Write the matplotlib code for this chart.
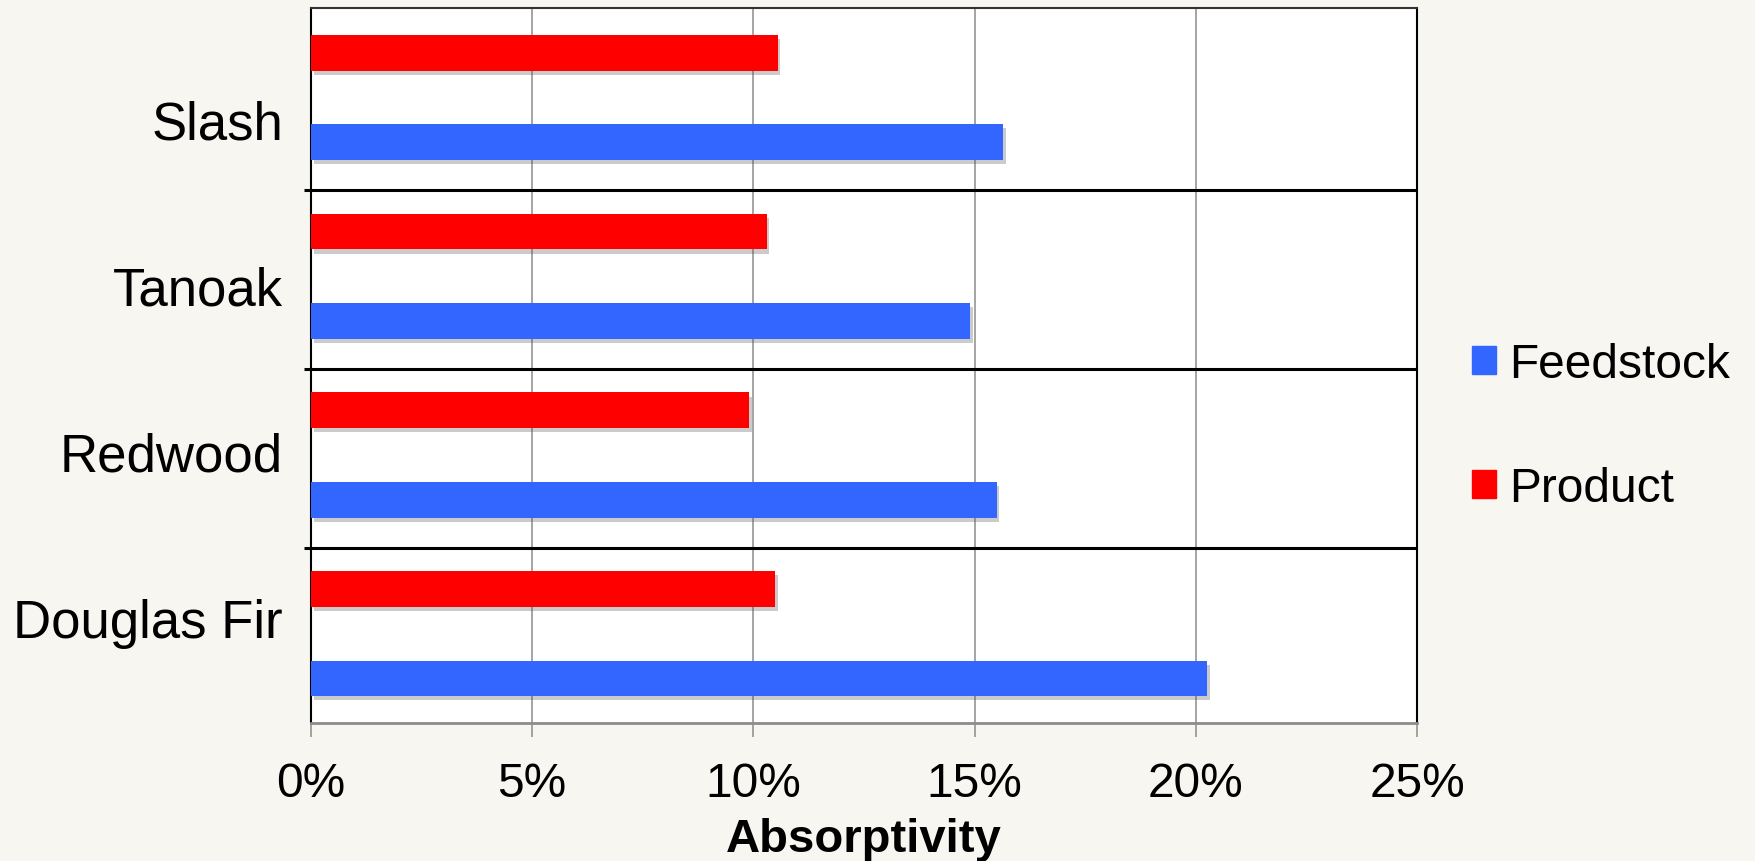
import numpy as np
import matplotlib.pyplot as plt
from matplotlib import patheffects as pe
from matplotlib.patches import Patch
from matplotlib.ticker import PercentFormatter

# values (percent), listed top to bottom
species = ['Slash', 'Tanoak', 'Redwood', 'Douglas Fir']
feedstock = [15.65, 14.9, 15.5, 20.25]
product = [10.55, 10.3, 9.9, 10.5]
x_ticks = [0, 5, 10, 15, 20, 25]

plt.rcParams['font.family'] = ['Liberation Sans', 'DejaVu Sans']

fig = plt.figure(figsize=(17.56, 8.62), dpi=100, facecolor='#f7f6f1')
ax = fig.add_axes([0.177, 0.160, 0.630, 0.8295])
ax.set_facecolor('white')

pos = np.arange(len(species))
shadow = [pe.SimplePatchShadow(offset=(2, -3), shadow_rgbFace='#555555', alpha=0.3),
          pe.Normal()]
ax.barh(pos - 0.25, product, height=0.2, color='#ff0000', path_effects=shadow, zorder=3)
ax.barh(pos + 0.25, feedstock, height=0.2, color='#3366ff', path_effects=shadow, zorder=3)

ax.set_xlim(0, 25)
ax.set_ylim(3.5, -0.5)
ax.set_xticks(x_ticks)
ax.xaxis.set_major_formatter(PercentFormatter(decimals=0))

# category labels sit a bit off the bar-group centres in the original
ax.set_yticks(pos * 0.93 + 0.12, species)
ax.set_yticks(pos[:-1] + 0.52, minor=True)
ax.tick_params(axis='y', which='major', length=0, pad=20, labelsize=38)
ax.tick_params(axis='y', which='minor', length=5, width=2.2, color='black')
ax.grid(axis='y', which='minor', color='black', lw=2.2)
ax.grid(axis='x', which='major', color='#8c8c8c', lw=1.1)
ax.tick_params(axis='x', length=10, width=1.1, color='#8c8c8c', pad=17, labelsize=34.5)
ax.set_axisbelow(True)

ax.set_xlabel('Absorptivity', fontsize=34, fontweight='bold', labelpad=8)

for side in ['left', 'right']:
    ax.spines[side].set_color('black')
    ax.spines[side].set_linewidth(1.5)
ax.spines['top'].set_color('#333333')
ax.spines['top'].set_linewidth(1.5)
ax.spines['bottom'].set_color('#8c8c8c')
ax.spines['bottom'].set_linewidth(2)

handles = [Patch(color='#3366ff', label='Feedstock'),
           Patch(color='#ff0000', label='Product')]
fig.legend(handles=handles, loc='center left', bbox_to_anchor=(0.838, 0.504),
           frameon=False, fontsize=34.5, handlelength=0.52, handleheight=0.52,
           handletextpad=0.26, labelspacing=1.65, borderpad=0, borderaxespad=0)

fig.savefig('out.png', dpi=100, facecolor=fig.get_facecolor())
